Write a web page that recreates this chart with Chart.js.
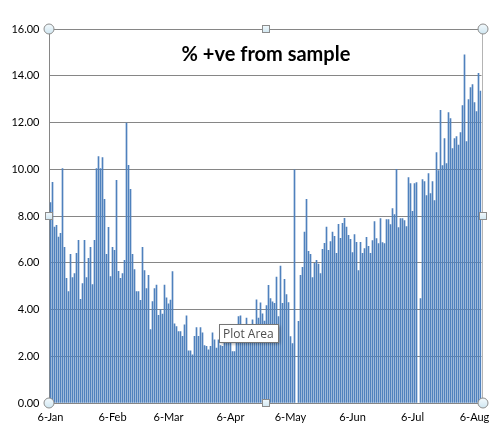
<!DOCTYPE html>
<html>
<head>
<meta charset="utf-8">
<script src="https://cdn.jsdelivr.net/npm/chart.js@4/dist/chart.umd.min.js"></script>
<style>
  body { margin: 0; background: #fff; }
  #wrap { width: 491px; height: 435px; position: relative; }
</style>
</head>
<body>
<div id="wrap"><canvas id="canvas"></canvas></div>
<script>
'use strict';

// daily % positive, starting 6-Jan (null = no sample that day)
var positiveRate = [
	8.57, 9.44, 7.53, 7.60, 7.10, 7.26, 10.03, 6.66, 5.33, 4.77,
	6.36, 5.37, 5.54, 6.40, 6.96, 4.43, 5.11, 6.96, 5.37, 6.19,
	6.66, 5.07, 6.96, 10.03, 10.54, 10.03, 10.50, 8.71, 6.36, 7.51,
	5.41, 6.66, 6.53, 9.53, 5.63, 5.33, 5.54, 6.10, 11.97, 10.17,
	9.14, 6.36, 5.71, 4.77, 4.77, 4.39, 6.66, 5.67, 4.90, 5.46,
	3.14, 4.34, 4.90, 5.05, 3.75, 4.00, 3.80, 5.05, 4.50, 4.24,
	4.40, 5.62, 3.39, 3.27, 3.06, 3.06, 2.85, 3.34, 3.73, 2.23,
	2.23, 2.06, 2.85, 3.23, 2.85, 3.23, 3.00, 2.46, 2.42, 2.28,
	2.42, 3.00, 2.70, 2.35, 2.70, 2.46, 2.42, 2.90, 3.10, 2.80,
	3.00, 2.20, 2.20, 2.90, 3.70, 3.73, 3.10, 3.30, 3.63, 3.20,
	3.00, 3.56, 3.30, 4.41, 3.63, 4.29, 3.81, 3.50, 4.17, 5.03,
	4.47, 4.33, 4.26, 5.39, 3.70, 5.86, 4.26, 5.29, 4.64, 4.30,
	2.84, 2.54, 9.97, null, 3.49, 5.46, 5.80, 7.31, 8.71, 6.49,
	6.36, 5.37, 5.97, 6.10, 5.94, 5.54, 6.57, 6.83, 7.53, 6.53,
	6.91, 7.31, 7.13, 6.40, 7.64, 7.04, 7.69, 7.90, 7.53, 7.17,
	7.00, 6.44, 7.21, 6.87, 5.67, 6.87, 6.40, 6.61, 7.09, 6.70,
	6.40, 6.95, 7.76, 7.03, 6.82, 7.89, 6.86, 6.82, 7.85, 7.85,
	7.63, 8.32, 8.06, 10.00, 7.50, 7.89, 7.89, 7.80, 7.55, 9.64,
	9.39, 8.20, 9.39, 9.43, null, 4.47, 9.56, 9.47, 8.87, 9.81,
	8.96, 9.47, 8.66, 10.71, 9.94, 12.52, 10.16, 11.31, 10.24, 12.42,
	12.17, 10.88, 11.31, 11.40, 11.03, 11.57, 12.72, 14.90, 11.18, 12.98,
	13.49, 13.62, 12.85, 12.47, 14.10, 13.34
];

var monthNames = ['Jan', 'Feb', 'Mar', 'Apr', 'May', 'Jun', 'Jul', 'Aug', 'Sep', 'Oct', 'Nov', 'Dec'];
var xTickLabels = ['6-Jan', '6-Feb', '6-Mar', '6-Apr', '6-May', '6-Jun', '6-Jul', '6-Aug'];
var yTicks = [0, 2, 4, 6, 8, 10, 12, 14, 16];

// one category per day
var days = [];
var d = new Date(2022, 0, 6);
for (var i = 0; i < positiveRate.length; i++) {
	days.push(d.getDate() + '-' + monthNames[d.getMonth()]);
	d.setDate(d.getDate() + 1);
}

var gridGrey = '#868686';

var excelDecor = {
	id: 'excelDecor',
	afterDraw: function (chart) {
		var ctx = chart.ctx;
		var a = chart.chartArea;
		ctx.save();

		// title inside plot area
		ctx.fillStyle = '#000';
		ctx.font = 'bold 20px Lato, "Open Sans", sans-serif';
		ctx.textAlign = 'center';
		ctx.textBaseline = 'alphabetic';
		ctx.fillText('% +ve from sample', 266, 61);

		// right edge of plot area
		ctx.strokeStyle = '#b4b4b4';
		ctx.lineWidth = 1;
		ctx.beginPath();
		ctx.moveTo(Math.round(a.right) + 0.5, a.top);
		ctx.lineTo(Math.round(a.right) + 0.5, a.bottom);
		ctx.stroke();

		// hover label
		ctx.shadowColor = 'rgba(0,0,0,0.35)';
		ctx.shadowBlur = 3;
		ctx.shadowOffsetX = 2;
		ctx.shadowOffsetY = 2;
		ctx.fillStyle = '#fff';
		ctx.fillRect(219, 324, 59, 18);
		ctx.shadowColor = 'transparent';
		ctx.strokeStyle = '#767676';
		ctx.strokeRect(219.5, 324.5, 59, 18);
		ctx.fillStyle = '#4d4d4d';
		ctx.font = '12px "Open Sans", sans-serif';
		ctx.textAlign = 'left';
		ctx.fillText('Plot Area', 223, 338);

		// selection handles
		var l = Math.round(a.left) - 1, r = Math.round(a.right) + 1;
		var midX = (l + r) / 2;
		var midY = (a.top + a.bottom) / 2;
		var corners = [[l, a.top], [r, a.top], [l, a.bottom], [r, a.bottom]];
		var sides = [[midX, a.top], [midX, a.bottom], [l, midY], [r, midY]];
		ctx.strokeStyle = '#8c8c8c';
		corners.forEach(function (p) {
			var g = ctx.createLinearGradient(0, p[1] - 5, 0, p[1] + 5);
			g.addColorStop(0, '#f4fafd');
			g.addColorStop(1, '#cfe6f1');
			ctx.fillStyle = g;
			ctx.beginPath();
			ctx.arc(p[0], p[1], 5, 0, Math.PI * 2);
			ctx.fill();
			ctx.stroke();
		});
		sides.forEach(function (p) {
			var g = ctx.createLinearGradient(0, p[1] - 4, 0, p[1] + 4);
			g.addColorStop(0, '#f4fafd');
			g.addColorStop(1, '#cfe6f1');
			ctx.fillStyle = g;
			ctx.fillRect(p[0] - 4, p[1] - 4, 8, 8);
			ctx.strokeRect(Math.round(p[0]) - 3.5, Math.round(p[1]) - 3.5, 7, 7);
		});
		ctx.restore();
	}
};

var config = {
	type: 'bar',
	data: {
		labels: days,
		datasets: [{
			label: '% +ve from sample',
			data: positiveRate,
			backgroundColor: '#4F81BD',
			borderWidth: 0,
			barThickness: 1
		}]
	},
	options: {
		responsive: true,
		maintainAspectRatio: false,
		animation: false,
		layout: { padding: { left: 0, right: 9.5, top: 29, bottom: 7 } },
		plugins: {
			legend: { display: false },
			tooltip: { enabled: false },
			title: { display: false }
		},
		scales: {
			x: {
				offset: true,
				grid: { display: false, drawTicks: false },
				border: { display: true, color: gridGrey },
				ticks: {
					autoSkip: false,
					maxRotation: 0,
					minRotation: 0,
					padding: 8,
					color: '#000',
					font: { family: 'Lato, "Open Sans", sans-serif', size: 11 },
					callback: function (value, index) {
						var lab = days[index];
						return xTickLabels.indexOf(lab) >= 0 ? lab : '';
					}
				},
				afterFit: function (scale) {
					scale.height = 25;
					scale.paddingLeft = 0;
					scale.paddingRight = 0;
				}
			},
			y: {
				min: yTicks[0],
				max: yTicks[yTicks.length - 1],
				grid: { color: gridGrey, lineWidth: 1, drawTicks: false },
				border: { display: true, color: gridGrey },
				ticks: {
					stepSize: 2,
					padding: 10,
					color: '#000',
					font: { family: 'Lato, "Open Sans", sans-serif', size: 11 },
					callback: function (value) { return value.toFixed(2); }
				},
				afterFit: function (scale) {
					scale.width = 49.5;
				}
			}
		}
	},
	plugins: [excelDecor]
};

var ctx = document.getElementById('canvas').getContext('2d');
window.mychart = new Chart(ctx, config);
</script>
</body>
</html>
